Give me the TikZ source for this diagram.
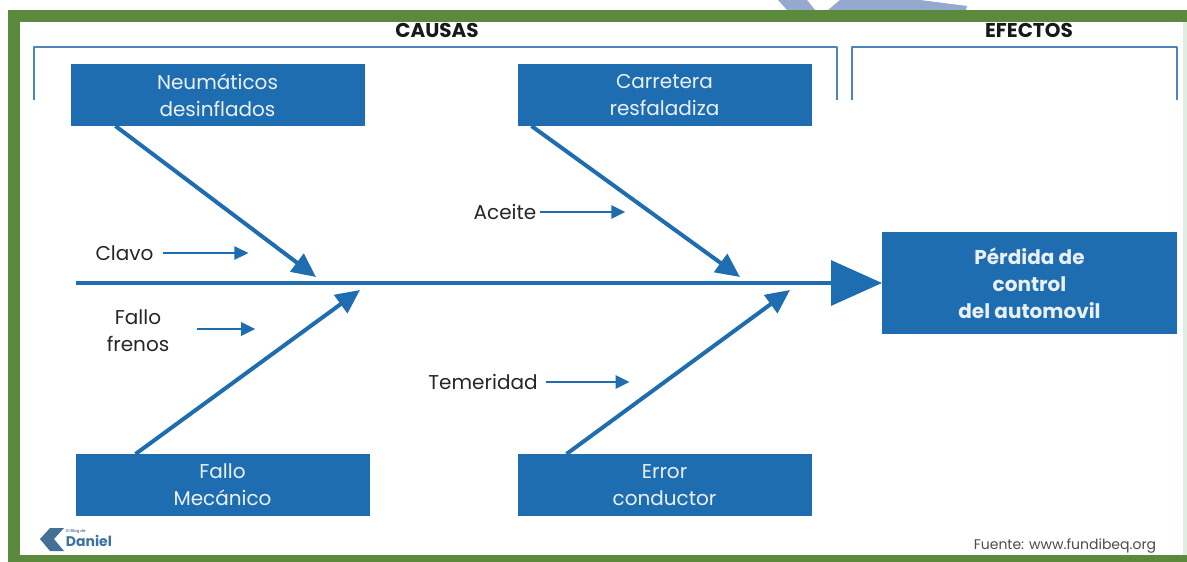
\documentclass[tikz,border=0pt]{standalone}
\usepackage{fontspec,xcolor}
\setmainfont{Poppins}
\usetikzlibrary{positioning,arrows.meta}
\definecolor{frame}{HTML}{5B8A3C}
\definecolor{bluebox}{HTML}{1F6DB1}
\definecolor{bracket}{HTML}{4D84BC}
\definecolor{paleblue}{HTML}{95A9CF}
\tikzset{%
  cause/.style={fill=bluebox,text=white!90!bluebox,minimum width=294pt,minimum height=62pt,
    inner sep=0pt,outer sep=0pt,align=center,font=\fontsize{20}{27}\selectfont},
  effect/.style={cause,minimum width=295pt,minimum height=102pt,font=\fontsize{20}{27}\selectfont\bfseries},
  lb/.style={inner sep=0pt,outer sep=0pt,align=center,text=black!85,font=\fontsize{20}{27}\selectfont},
  head/.style={inner sep=0pt,outer sep=0pt,text=black!90,font=\fontsize{20}{24}\selectfont\bfseries},
  bone/.style={draw=bluebox,line width=4pt,-{Triangle[length=24pt,width=22pt]},shorten >=0pt},
  small/.style={draw=bluebox,line width=2.6pt,-{Triangle[length=14pt,width=13pt]}},
  spine/.style={draw=bluebox,line width=3.4pt,-{Triangle[length=51pt,width=45pt]}},
  bracket/.style={draw=bracket,line width=2.4pt,line join=round}
}
\begin{document}
\begin{tikzpicture}[x=1pt,y=-1pt]
  \useasboundingbox (0,0) rectangle (1187,562);
  \fill[white] (0,0) rectangle (1187,562);
  \fill[paleblue] (778,0) -- (787,10) -- (815,10) -- (807,0) -- cycle;
  \fill[paleblue] (828,10) -- (840,0) -- (920,0) -- (967,6) -- (966,10) -- cycle;
  \fill[frame] (8,10) rectangle (1187,562);
  \fill[green!40!black!12!white] (20,22) rectangle (1187,555);
  \fill[white] (20,22) rectangle (1183,555);

  \draw[bracket] (34,100) -- (34,47) -- (837,47) -- (837,100);
  \draw[bracket] (852,100) -- (852,47) -- (1177,47) -- (1177,100);
  \node[head] (causas) at (437,30) {CAUSAS};
  \node[head] (efectos) at (1029,30) {EFECTOS};

  \node[cause] (neumaticos) at (217.5,95) {Neumáticos\\desinflados};
  \node[cause,right=153pt of neumaticos] (carretera) {Carretera\\resfaladiza};
  \node[cause] (fallo) at (222.5,485) {Fallo\\Mecánico};
  \node[cause,below=328pt of carretera] (error) {Error\\conductor};
  \node[effect] (perdida) at (1029.5,283) {Pérdida de\\control\\del automovil};

  \coordinate (cola) at (76,283);
  \draw[spine] (cola) -- (perdida.west);

  \coordinate (n1) at (316,277);
  \coordinate (c1) at (740,277);
  \coordinate (f1) at (360,290);
  \coordinate (e1) at (790,290);
  \draw[bone] ([xshift=-102pt]neumaticos.south) -- (n1);
  \draw[bone] ([xshift=-133pt]carretera.south) -- (c1);
  \draw[bone] ([xshift=-87pt]fallo.north) -- (f1);
  \draw[bone] ([xshift=-98pt]error.north) -- (e1);

  \node[lb] (clavo) at (124.5,253) {Clavo};
  \node[lb] (aceite) at (505,212) {Aceite};
  \node[lb] (frenos) at (138,331) {Fallo\\frenos};
  \node[lb] (temeridad) at (483,382) {Temeridad};

  \coordinate[right=85pt of clavo.east] (a1);
  \coordinate[right=85pt of aceite.east] (a2);
  \coordinate[right=86pt of frenos.east] (a3);
  \coordinate[right=92pt of temeridad.east] (a4);
  \draw[small] ([xshift=10pt]clavo.east) -- ([xshift=10pt]a1);
  \draw[small] ([xshift=4pt]aceite.east) -- ([xshift=4pt]a2);
  \draw[small] ([xshift=28pt,yshift=2pt]frenos.east) -- ([yshift=2pt]a3);
  \draw[small] ([xshift=8pt]temeridad.east) -- (a4);

  \fill[bluebox!70!black!80] (64,528) -- (50,528) -- (40,539) -- (50,551) -- (64,551) -- (54,539) -- cycle;
  \node[inner sep=0pt,text=bluebox!60!black,font=\fontsize{4}{4}\selectfont] (blog) at (76,532) {El Blog de};
  \node[inner sep=0pt,text=bluebox!70!gray,font=\fontsize{14}{14}\selectfont\bfseries] (daniel) at (89,541) {Daniel};
  \node[inner sep=0pt,text=black!70,font=\fontsize{14}{14}\selectfont] (fuente) at (1065,546) {Fuente: www.fundibeq.org};
\end{tikzpicture}
\end{document}
